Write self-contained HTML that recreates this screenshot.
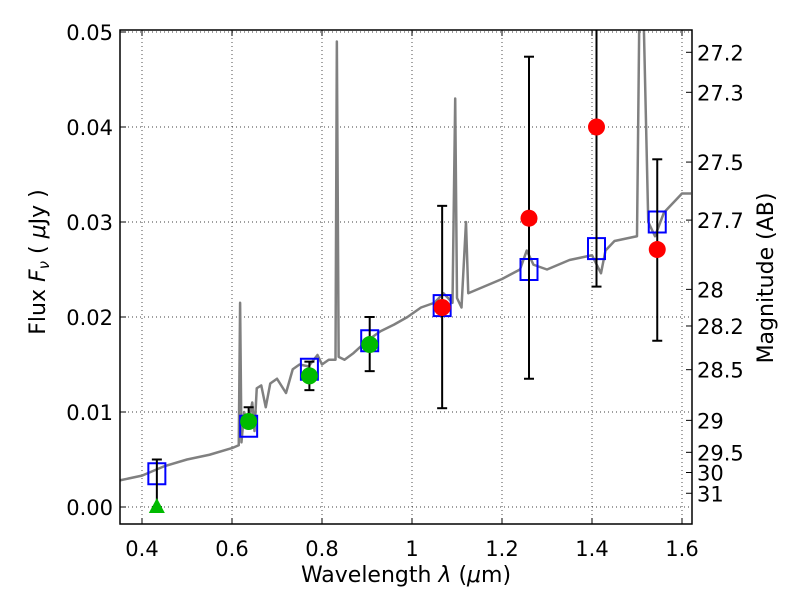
<!DOCTYPE html>
<html><head><meta charset="utf-8"><style>
body{margin:0;background:#fff;}
svg{display:block;font-family:"DejaVu Sans","Liberation Sans",sans-serif;}
</style></head><body>
<svg id="chart" width="800" height="600"></svg>
<script>
const specWave=[0.35,0.40,0.45,0.50,0.55,0.60,0.615,0.618,0.621,0.627,0.635,0.645,0.65,0.655,0.665,0.675,0.685,0.70,0.72,0.735,0.75,0.77,0.79,0.80,0.815,0.83,0.833,0.837,0.85,0.87,0.90,0.93,0.96,0.99,1.02,1.05,1.07,1.09,1.096,1.10,1.11,1.12,1.125,1.15,1.2,1.24,1.255,1.27,1.30,1.35,1.40,1.42,1.43,1.45,1.5,1.505,1.515,1.525,1.54,1.56,1.6,1.62];
const specFlux=[0.0028,0.0033,0.0043,0.0050,0.0055,0.0062,0.0065,0.0215,0.0068,0.0100,0.0085,0.0110,0.0080,0.0125,0.0128,0.0105,0.0130,0.0135,0.0120,0.0145,0.0150,0.0148,0.0160,0.0150,0.0155,0.0155,0.0490,0.0158,0.0155,0.0162,0.0175,0.0185,0.0192,0.0200,0.0210,0.0215,0.0225,0.0215,0.0430,0.0220,0.0210,0.0300,0.0225,0.0230,0.0240,0.0250,0.0270,0.0255,0.0250,0.0260,0.0265,0.0246,0.0270,0.0280,0.0285,0.0510,0.0510,0.0300,0.0285,0.0310,0.0330,0.0330];
const modelWave=[0.433,0.637,0.772,0.906,1.067,1.26,1.41,1.545];
const modelFlux=[0.0035,0.0085,0.0145,0.0175,0.0212,0.0250,0.0272,0.0300];
const obsWave=[0.637,0.772,0.906,1.067,1.26,1.41,1.545];
const obsFlux=[0.0090,0.0138,0.0171,0.0210,0.0304,0.0400,0.0271];
const obsLo=[0.0084,0.0123,0.0143,0.0104,0.0135,0.0232,0.0175];
const obsHi=[0.0105,0.0153,0.0200,0.0317,0.0474,0.0600,0.0366];
const obsDetected=[true,true,true,false,false,false,false];
const limWave=[0.433];const limFlux=[0.0];const limHi=[0.0050];
const xTicks=[0.4,0.6,0.8,1.0,1.2,1.4,1.6];
const xTickLabels=["0.4","0.6","0.8","1","1.2","1.4","1.6"];
const yTicks=[0,0.01,0.02,0.03,0.04,0.05];
const yTickLabels=["0.00","0.01","0.02","0.03","0.04","0.05"];
const magTicks=[27.2,27.3,27.5,27.7,28,28.2,28.5,29,29.5,30,31];

const L=120,R=692,T=30,B=524;
const x=w=>142+(w-0.4)*450;
const y=f=>507-f*9500;
const svg=document.getElementById('chart');
const NS='http://www.w3.org/2000/svg';
function mk(tag,attrs,parent){const e=document.createElementNS(NS,tag);for(const k in attrs)e.setAttribute(k,attrs[k]);(parent||svg).appendChild(e);return e;}
const defs=mk('defs',{});const cp=mk('clipPath',{id:'clip'},defs);mk('rect',{x:L,y:T,width:R-L,height:B-T},cp);

xTicks.forEach(t=>{const g=mk('line',{x1:x(t),x2:x(t),y1:T,y2:B,stroke:'#000','stroke-width':0.7,'stroke-dasharray':'1,3'});

});
yTicks.forEach(t=>{const g=mk('line',{x1:L,x2:R,y1:y(t),y2:y(t),stroke:'#000','stroke-width':0.7,'stroke-dasharray':'1,3'});

});

const plot=mk('g',{'clip-path':'url(#clip)'});


const sp=mk('polyline',{points:specWave.map((w,i)=>x(w)+','+y(specFlux[i])).join(' '),fill:'none',stroke:'#808080','stroke-width':2.5,'stroke-linejoin':'round'},plot);


modelWave.forEach((w,i)=>{const r=mk('rect',{x:x(w)-8.5,y:y(modelFlux[i])-10.5,width:17,height:21,fill:'none',stroke:'#0000ff','stroke-width':2},plot);

});
function errbar(w,lo,hi){const g=mk('g',{},plot);


mk('line',{x1:x(w),x2:x(w),y1:y(lo),y2:y(hi),stroke:'#000','stroke-width':2},g);
mk('line',{x1:x(w)-5,x2:x(w)+5,y1:y(lo),y2:y(lo),stroke:'#000','stroke-width':2},g);
mk('line',{x1:x(w)-5,x2:x(w)+5,y1:y(hi),y2:y(hi),stroke:'#000','stroke-width':2},g);}
limWave.forEach((w,i)=>errbar(w,limFlux[i],limHi[i]));
obsWave.forEach((w,i)=>errbar(w,obsLo[i],obsHi[i]));
obsWave.forEach((w,i)=>{const c=mk('circle',{cx:x(w),cy:y(obsFlux[i]),r:8.5,fill:obsDetected[i]?'#00bb00':'#ff0000'},plot);

});
limWave.forEach((w,i)=>{const px=x(w),py=y(limFlux[i]);const t=mk('polygon',{points:`${px},${py-9} ${px-8},${py+6} ${px+8},${py+6}`,fill:'#00bb00'},plot);

});

const fr=mk('rect',{x:L,y:T,width:R-L,height:B-T,fill:'none',stroke:'#000','stroke-width':1.5});


xTicks.forEach((t,i)=>{mk('line',{x1:x(t),x2:x(t),y1:B,y2:B-6,stroke:'#000'});mk('line',{x1:x(t),x2:x(t),y1:T,y2:T+6,stroke:'#000'});
const tx=mk('text',{x:x(t),y:B+32,'font-size':21,'text-anchor':'middle'});tx.textContent=xTickLabels[i];

});
yTicks.forEach((t,i)=>{mk('line',{x1:L,x2:L+6,y1:y(t),y2:y(t),stroke:'#000'});
const tx=mk('text',{x:L-7,y:y(t)+8,'font-size':21,'text-anchor':'end'});tx.textContent=yTickLabels[i];

});
magTicks.forEach(m=>{const f=Math.pow(10,(23.9-m)/2.5);mk('line',{x1:R,x2:R-6,y1:y(f),y2:y(f),stroke:'#000'});
const tx=mk('text',{x:R+5,y:y(f)+8,'font-size':21});tx.textContent=String(m);

});
</script>
<svg width="800" height="600" style="position:absolute;left:0;top:0;font-family:'DejaVu Sans','Liberation Sans',sans-serif">
<text x="406" y="582" font-size="22" text-anchor="middle">Wavelength  <tspan font-style="italic">λ</tspan> (<tspan font-style="italic">μ</tspan>m)</text>
<text transform="translate(45,262) rotate(-90)" font-size="22" text-anchor="middle">Flux  <tspan font-style="italic">F<tspan font-size="15" dy="4">ν</tspan></tspan><tspan dy="-4">  (  </tspan><tspan font-style="italic">μ</tspan>Jy  )</text>
<text transform="translate(773,278) rotate(-90)" font-size="22" text-anchor="middle">Magnitude (AB)</text>
</svg>
</body></html>
